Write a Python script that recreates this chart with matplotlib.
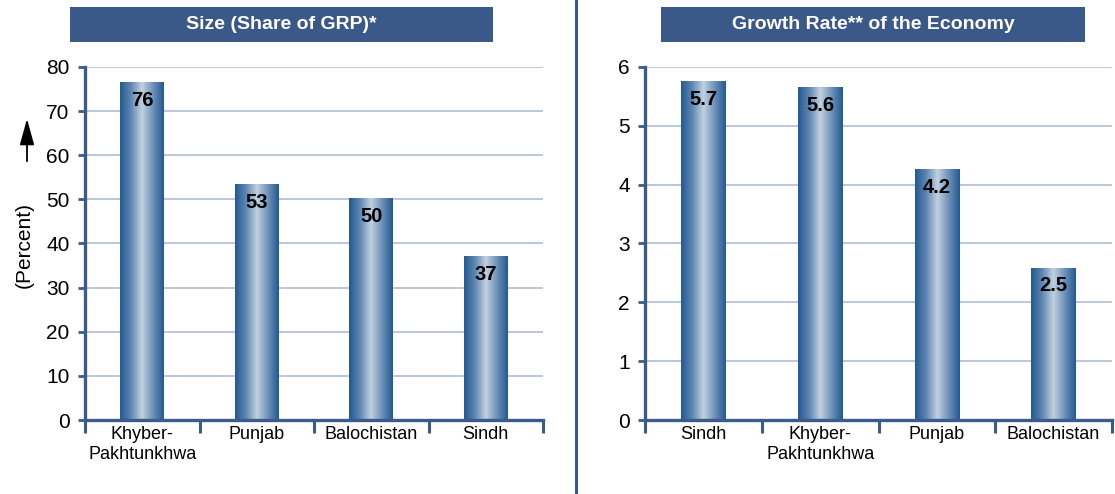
import numpy as np
import matplotlib
matplotlib.use("Agg")
import matplotlib.pyplot as plt
from matplotlib.patches import Rectangle, FancyArrowPatch
from matplotlib.colors import LinearSegmentedColormap

plt.rcParams['font.family'] = ['Liberation Sans', 'DejaVu Sans']

# data
size_regions = ['Khyber-\nPakhtunkhwa', 'Punjab', 'Balochistan', 'Sindh']
size_values = [76.5, 53.4, 50.1, 37.0]
size_labels = ['76', '53', '50', '37']

growth_regions = ['Sindh', 'Khyber-\nPakhtunkhwa', 'Punjab', 'Balochistan']
growth_values = [5.75, 5.65, 4.25, 2.58]
growth_labels = ['5.7', '5.6', '4.2', '2.5']

W, H = 1115, 494
navy = '#3A5888'
spine_col = '#3B5B8D'
grid_col = '#A9B8D1'
bar_cmap = LinearSegmentedColormap.from_list(
    'cyl', ['#245B92', '#5F88B3', '#C3D1DF', '#6E93BA', '#245B92'])

fig = plt.figure(figsize=(W / 100, H / 100), dpi=100)


def px_axes(x0, x1, y_top, y_bot):
    return fig.add_axes([x0 / W, 1 - y_bot / H, (x1 - x0) / W, (y_bot - y_top) / H])


def draw_panel(ax, cats, vals, labels, ymax, step, label_off):
    n = len(cats)
    bw = 0.38
    grad = np.linspace(0, 1, 64).reshape(1, -1)
    for y in np.arange(step, ymax + step / 2, step):
        ax.axhline(y, color=grid_col, lw=1.1, zorder=1)
    for i, v in enumerate(vals):
        ax.imshow(grad, cmap=bar_cmap, aspect='auto',
                  extent=(i - bw / 2, i + bw / 2, 0, v), zorder=2)
        ax.text(i, v - label_off, labels[i], ha='center', va='center',
                fontsize=14.5, fontweight='bold', color='black', zorder=3)
    ax.set_xlim(-0.5, n - 0.5)
    ax.set_ylim(0, ymax)
    ax.set_yticks(np.arange(0, ymax + step / 2, step))
    ax.tick_params(axis='y', direction='out', length=5, width=2,
                   color=spine_col, labelsize=15, pad=6)
    # category separators as major ticks, names as minor ticks
    ax.set_xticks(np.arange(-0.5, n, 1.0))
    ax.set_xticklabels([])
    ax.tick_params(axis='x', which='major', direction='out', length=9,
                   width=2.2, color=spine_col)
    ax.set_xticks(np.arange(n), minor=True)
    ax.set_xticklabels(cats, minor=True, fontsize=13, linespacing=1.3)
    ax.tick_params(axis='x', which='minor', length=0, pad=4)
    for s in ['top', 'right']:
        ax.spines[s].set_visible(False)
    for s in ['left', 'bottom']:
        ax.spines[s].set_color(spine_col)
        ax.spines[s].set_linewidth(2.4)
        ax.spines[s].set_zorder(4)


ax1 = px_axes(85, 543, 67, 420)
draw_panel(ax1, size_regions, size_values, size_labels, 80, 10, 4.0)

ax2 = px_axes(645, 1112, 67, 420)
draw_panel(ax2, growth_regions, growth_values, growth_labels, 6, 1, 0.30)


def title_box(x0, x1, text):
    fig.patches.append(Rectangle((x0 / W, 1 - 42 / H), (x1 - x0) / W, 35 / H,
                                 transform=fig.transFigure, facecolor=navy,
                                 edgecolor='none'))
    fig.text((x0 + x1) / 2 / W, 1 - 24.5 / H, text, ha='center', va='center',
             color='white', fontsize=14, fontweight='bold')


title_box(70, 493, 'Size (Share of GRP)*')
title_box(661, 1085, 'Growth Rate** of the Economy')

# divider between panels
fig.add_artist(plt.Line2D([576 / W, 576 / W], [0, 1], transform=fig.transFigure,
                          color=navy, lw=2.2))

# y-axis label with arrow
fig.text(24 / W, 1 - 245 / H, '(Percent)', rotation=90, ha='center',
         va='center', fontsize=15)
fig.add_artist(FancyArrowPatch(
    (27 / W, 1 - 164 / H), (27 / W, 1 - 116 / H), transform=fig.transFigure,
    arrowstyle='-|>,head_length=0.8,head_width=0.22', mutation_scale=20,
    color='black', lw=1.3))

fig.savefig('out.png', dpi=100)
